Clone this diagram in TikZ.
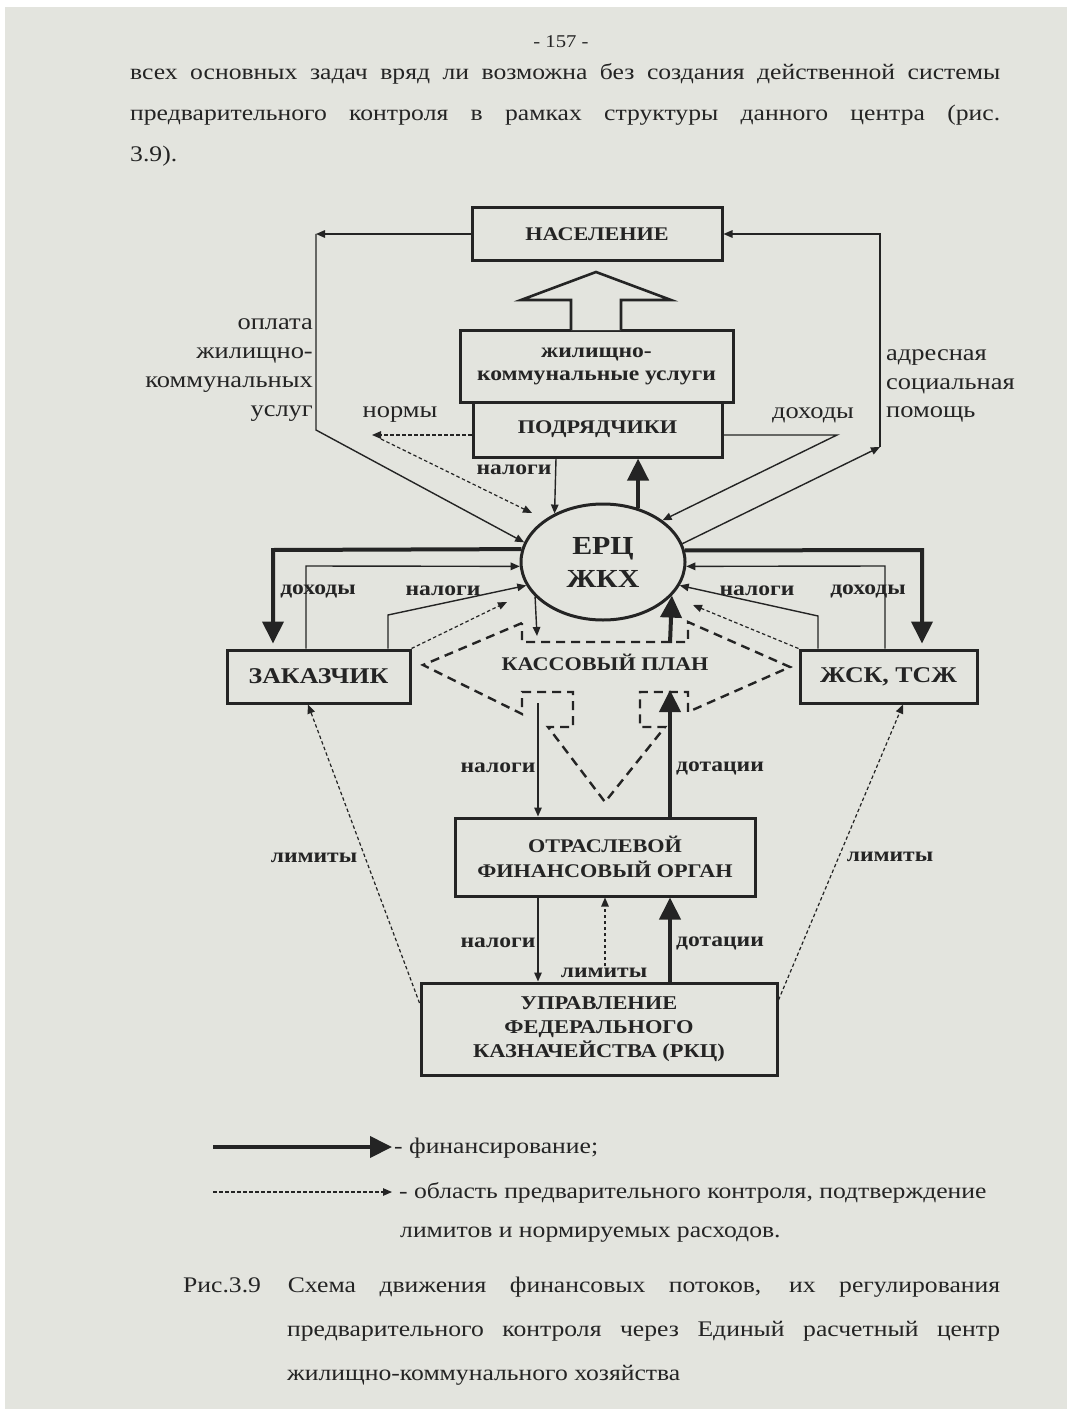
\documentclass[tikz,border=0pt]{standalone}
\usepackage{fontspec}
\setmainfont[FakeStretch=1.15]{Liberation Serif}
\usetikzlibrary{arrows.meta,shapes.geometric}

\definecolor{paper}{HTML}{E3E4DE}
\definecolor{ink}{HTML}{242424}

\newcommand{\fs}[1]{\fontsize{#1bp}{1.2\dimexpr#1bp\relax}\selectfont}
\newcommand{\fsb}[2]{\fontsize{#1bp}{#2bp}\selectfont}

\tikzset{
  thinln/.style={draw=ink, line width=1.4bp},
  tipS/.style={-{Triangle[length=9bp,width=7.5bp]}},
  finln/.style={draw=ink, line width=4bp, -{Triangle[length=22bp,width=21bp]}},
  dotln/.style={draw=ink, line width=1.2bp, dash pattern=on 3.5bp off 2.5bp},
  ctrlln/.style={draw=ink, line width=2.4bp, dash pattern=on 9bp off 6bp},
  boxnode/.style={draw=ink, line width=3bp, inner sep=0pt, align=center,
    text=ink, font=\bfseries\fs{19.3}},
  lblS/.style={inner sep=0pt, text=ink, font=\bfseries\fs{20.5}},
  lblM/.style={inner sep=0pt, text=ink, font=\fs{23}, align=center},
  bodytxt/.style={inner sep=0pt, text=ink, font=\fs{22.3}, anchor=west},
}

\begin{document}
\begin{tikzpicture}[x=1bp,y=-1bp]
\useasboundingbox (0,0) rectangle (1067,1409);
\fill[white] (0,0) rectangle (1067,1409);
\fill[paper] (5,7) rectangle (1067,1409);

% ---- running text above the figure
\node[inner sep=0pt, text=ink, font=\fs{18}] (pageno) at (561,42) {- 157 -};
\node[bodytxt] (body1) at (130,74) {\makebox[870bp][s]{всех основных задач вряд ли возможна без создания действенной системы}};
\node[bodytxt] (body2) at (130,115) {\makebox[870bp][s]{предварительного контроля в рамках структуры данного центра (рис.}};
\node[bodytxt] (body3) at (130,156) {3.9).};

% ---- boxes
\node[boxnode, minimum width=250bp, minimum height=52bp] (nas) at (597,234) {НАСЕЛЕНИЕ};
\node[boxnode, minimum width=273bp, minimum height=72bp, font=\bfseries\fsb{20.5}{23}] (zku) at (596.5,366) {жилищно-\\коммунальные услуги};
\node[boxnode, minimum width=249bp, minimum height=55bp] (pod) at (597.5,429.5) {ПОДРЯДЧИКИ};
\node[boxnode, minimum width=183bp, minimum height=53bp, font=\bfseries\fs{22.5}] (zak) at (318.5,676.5) {ЗАКАЗЧИК};
\node[boxnode, minimum width=177bp, minimum height=53bp, font=\bfseries\fs{22.5}] (zsk) at (888.5,676.5) {ЖСК, ТСЖ};
\node[boxnode, minimum width=300bp, minimum height=78bp, font=\bfseries\fsb{19.3}{25}] (otr) at (605,857) {ОТРАСЛЕВОЙ\\ФИНАНСОВЫЙ ОРГАН};
\node[boxnode, minimum width=356bp, minimum height=92bp, font=\bfseries\fsb{19.5}{24}] (ufk) at (599,1029) {УПРАВЛЕНИЕ\\ФЕДЕРАЛЬНОГО\\КАЗНАЧЕЙСТВА (РКЦ)};
\node[draw=ink, line width=3bp, ellipse, minimum width=164bp, minimum height=116bp,
      inner sep=0pt, align=center, text=ink, font=\bfseries\fsb{26}{33}] (erc) at (603,562) {ЕРЦ\\ЖКХ};

% ---- hollow arrow: services delivered to the population
\draw[ink, line width=2.6bp, line join=miter, fill=paper]
  (571,330) -- (571,300) -- (521,300) -- (596,272) -- (671,300) -- (621,300) -- (621,330);

% ---- control area around the cash plan
\draw[ctrlln, line join=miter]
  (522,623) -- (423,665) -- (522,714) -- (522,692) -- (573,692) -- (573,727) -- (548,727)
  -- (605,802) -- (665,727) -- (640,727) -- (640,692) -- (688,692) -- (688,712)
  -- (790,667) -- (688,622) -- (688,642) -- (522,642) -- cycle;
\node[inner sep=0pt, text=ink, font=\bfseries\fs{19.3}] (kplan) at (605,662) {КАССОВЫЙ ПЛАН};

% ---- payments of the population
\coordinate (payC1) at (316,234);
\coordinate (payC2) at (316,430);
\draw[thinln, tipS] (nas.west) -- (payC1);
\draw[thinln, tipS] (payC1) -- (payC2) -- (erc.166);

% ---- targeted social aid
\coordinate (aidC1) at (880,447);
\coordinate (aidC2) at (880,234);
\draw[thinln, tipS] (erc.13) -- (aidC1);
\draw[thinln, tipS] (aidC1) -- (aidC2) -- (nas.east);

% ---- contractors
\coordinate (normC) at (372,435);
\coordinate (normS) at (381,439);
\coordinate (normE) at (532,513);
\draw[dotln, tipS] (normC -| pod.west) -- (normC);
\draw[dotln, tipS] (normS) -- (normE);
\coordinate (podTax) at (556,0);
\draw[thinln, tipS] (podTax |- pod.south) -- (erc.135);
\draw[finln] (erc.57) -- (erc.57 |- pod.south);
\coordinate (incC) at (837,435);
\draw[thinln, tipS] (incC -| pod.east) -- (incC) -- (erc.35);

% ---- customer
\coordinate (lfC) at (273,550);
\draw[finln] (erc.171.5) -- (lfC) -- ([yshift=5bp]lfC |- zak.north);
\coordinate (lInc) at (306,566);
\draw[thinln, tipS] (lInc |- zak.north) -- (lInc) -- (erc.183);
\coordinate (lTax) at (388,615);
\draw[thinln, tipS] (lTax |- zak.north) -- (lTax) -- (erc.197);
\coordinate (lDot) at (507,602);
\draw[dotln, tipS] (zak.north east) -- (lDot);

% ---- housing cooperatives
\coordinate (rfC) at (922,550);
\draw[finln] (erc.8.5) -- (rfC) -- ([yshift=5bp]rfC |- zsk.north);
\coordinate (rInc) at (885,566);
\draw[thinln, tipS] (rInc |- zsk.north) -- (rInc) -- (erc.-3);
\coordinate (rTax) at (818,616);
\draw[thinln, tipS] (rTax |- zsk.north) -- (rTax) -- (erc.-17);
\coordinate (rDot) at (693,605);
\draw[dotln, tipS] (zsk.north west) -- (rDot);

% ---- cash plan
\coordinate (cpTax) at (537,636);
\draw[thinln, tipS] (erc.207) -- (cpTax);
\coordinate (cpSub) at (670,643);
\draw[finln] (cpSub) -- (erc.-26.5);

% ---- branch financial body and treasury
\coordinate (oTaxS) at (538,703);
\coordinate (oSubE) at (670,690);
\draw[thinln, tipS] (oTaxS) -- (oTaxS |- otr.north);
\draw[finln] (oSubE |- otr.north) -- (oSubE);
\draw[thinln, tipS] (oTaxS |- otr.south) -- (oTaxS |- ufk.north);
\draw[finln] (oSubE |- ufk.north) -- (oSubE |- otr.south);
\coordinate (limS) at (605,966);
\draw[dotln, tipS] (limS) -- (limS |- otr.south);
\coordinate (lzS) at (422,1003);
\coordinate (lzE) at (308,0);
\draw[dotln, tipS] (lzS -| ufk.west) -- (lzE |- zak.south);
\coordinate (rzS) at (778,1000);
\coordinate (rzE) at (903,0);
\draw[dotln, tipS] (rzS -| ufk.east) -- (rzE |- zsk.south);

% ---- flow labels
\node[lblM, align=right, anchor=east, font=\fsb{23}{29}] (lblPay) at (313,370)
  {оплата\\жилищно-\\коммунальных\\услуг};
\node[lblM, align=left, anchor=west, font=\fsb{23}{28.5}] (lblAid) at (886,386)
  {адресная\\социальная\\помощь};
\node[lblM] (lblNorm) at (400,415) {нормы};
\node[lblM] (lblPodInc) at (813,415) {доходы};
\node[lblS] (lblPodTax) at (514,470) {налоги};
\node[lblS] (lblZakInc) at (318,591) {доходы};
\node[lblS] (lblZakTax) at (443,591) {налоги};
\node[lblS] (lblZskTax) at (757,591) {налоги};
\node[lblS] (lblZskInc) at (868,591) {доходы};
\node[lblS] (lblTax1) at (498,768) {налоги};
\node[lblS] (lblSub1) at (720,768) {дотации};
\node[lblS] (lblTax2) at (498,943) {налоги};
\node[lblS] (lblSub2) at (720,943) {дотации};
\node[lblS] (lblLim) at (604,973) {лимиты};
\node[lblS] (lblLimL) at (314,858) {лимиты};
\node[lblS] (lblLimR) at (890,857) {лимиты};

% ---- legend
\coordinate (legA1) at (213,1147);
\coordinate (legA2) at (392,1147);
\draw[finln] (legA1) -- (legA2);
\node[bodytxt] (legT1) at (394,1148) {- финансирование;};
\coordinate (legB1) at (213,1192);
\coordinate (legB2) at (392,1192);
\draw[dotln, tipS] (legB1) -- (legB2);
\node[bodytxt] (legT2) at (399,1193) {- область предварительного контроля, подтверждение};
\node[bodytxt] (legT3) at (400,1235) {лимитов и нормируемых расходов.};

% ---- caption
\node[bodytxt] (cap1) at (183,1287) {\makebox[817bp][s]{Рис.3.9\hspace{0.15em} Схема движения финансовых потоков, их регулирования}};
\node[bodytxt] (cap2) at (287,1331) {\makebox[713bp][s]{предварительного контроля через Единый расчетный центр}};
\node[bodytxt] (cap3) at (287,1375) {жилищно-коммунального хозяйства};
\end{tikzpicture}
\end{document}
